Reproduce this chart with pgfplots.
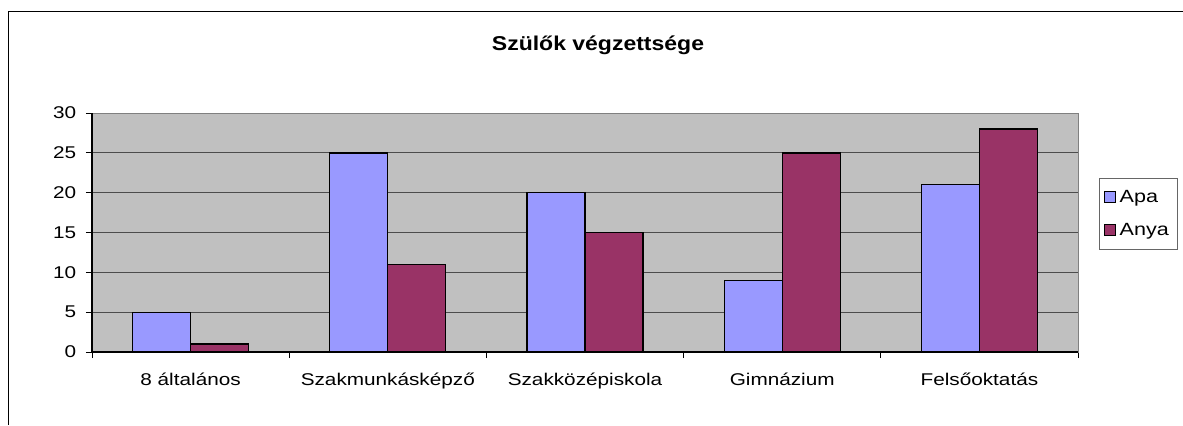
\documentclass[border=0pt]{standalone}
\usepackage{fontspec}
\setmainfont{Liberation Sans}[FakeStretch=1.22]
\newfontfamily\titlefont{Liberation Sans}[FakeStretch=1.15]
\usepackage{pgfplots}
\pgfplotsset{compat=1.18}
\definecolor{apa}{HTML}{9999FF}
\definecolor{anya}{HTML}{993366}
\definecolor{plotbg}{HTML}{C0C0C0}
\pgfplotsset{sq legend/.style={legend image code/.code={%
  \draw[##1, draw=black, line width=0.6pt] (0pt,-3.3pt) rectangle (6.6pt,3.3pt);}}}
\begin{document}
\begin{tikzpicture}
\path[use as bounding box] (0,0) rectangle (709.8pt,255pt);
\draw[black, line width=0.6pt] (4.8pt,0) -- (4.8pt,247.8pt) -- (709.8pt,247.8pt);
\node[font=\titlefont\bfseries\fontsize{12}{14}\selectfont] at (358.8pt,228pt) {Szülők végzettsége};
\begin{axis}[
    at={(55.2pt,43.8pt)}, anchor=south west,
    scale only axis, width=591.6pt, height=143.4pt,
    ybar=0pt, bar width=34.8pt,
    xmin=-0.5, xmax=4.5, ymin=0, ymax=30,
    xtick={-0.5,0.5,...,4.5}, xticklabels={},
    extra x ticks={0,1,2,3,4},
    extra x tick labels={8 általános, Szakmunkásképző, Szakközépiskola, Gimnázium, Felsőoktatás},
    extra x tick style={major tick length=0pt},
    ytick={0,5,...,30},
    xtick pos=bottom, ytick pos=left,
    tick align=outside, major tick length=3.6pt,
    tick style={black, line width=0.6pt},
    ymajorgrids, major grid style={black!70, line width=0.6pt},
    axis background/.style={fill=plotbg},
    axis line style={draw=black!50, line width=0.6pt},
    tick label style={font=\fontsize{10.2}{12}\selectfont},
    /pgf/number format/assume math mode=true,
    yticklabel style={xshift=-2.4pt},
    xticklabel style={yshift=-9pt},
    legend style={at={(1.0213,0.728)}, anchor=north west, draw=black!60, fill=white,
      font=\fontsize{10.6}{12}\selectfont, row sep=7pt, inner xsep=3pt, inner ysep=5pt},
    legend cell align=left,
    after end axis/.code={\draw[black, line width=0.8pt] (rel axis cs:0,1) -- (rel axis cs:0,0) -- (rel axis cs:1,0);},
]
\addplot[fill=apa, draw=black, line width=0.8pt, sq legend] coordinates {(0,5) (1,25) (2,20) (3,9) (4,21)};
\addplot[fill=anya, draw=black, line width=0.8pt, sq legend] coordinates {(0,1) (1,11) (2,15) (3,25) (4,28)};
\legend{Apa, Anya}
\end{axis}
\end{tikzpicture}
\end{document}
